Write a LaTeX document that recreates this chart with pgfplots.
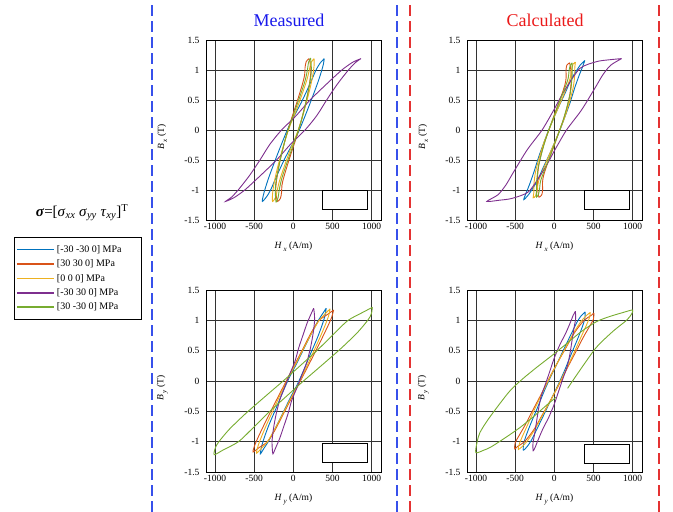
\documentclass[border=0pt]{standalone}
\usepackage{fontspec}
\setmainfont{Liberation Serif}
\usepackage{pgfplots}
\pgfplotsset{compat=1.18}

\definecolor{mblue}{RGB}{0,114,189}
\definecolor{morange}{RGB}{217,83,25}
\definecolor{myellow}{RGB}{237,177,32}
\definecolor{mpurple}{RGB}{126,47,142}
\definecolor{mgreen}{RGB}{119,172,48}
\definecolor{dashblue}{RGB}{55,80,235}
\definecolor{dashred}{RGB}{228,50,50}
\definecolor{titleblue}{RGB}{25,25,235}
\definecolor{titlered}{RGB}{235,25,25}

\newcommand{\legtext}[1]{\makebox[80pt][l]{\fontsize{10}{10.5}\selectfont #1}}

\pgfplotsset{
  hyst/.style={
    scale only axis, width=175pt, height=180pt,
    xmin=-1115, xmax=1120, ymin=-1.5, ymax=1.5,
    xtick={-1000,-500,0,500,1000},
    ytick={-1.5,-1,-0.5,0,0.5,1,1.5},
    grid=major,
    major grid style={draw=black!80, line width=0.6pt},
    axis line style={draw=black, line width=0.7pt},
    tick style={draw=none},
    tick label style={font=\fontsize{9.5}{11}\selectfont},
    /pgf/number format/assume math mode=true,
    /pgf/number format/1000 sep={},
    yticklabel style={xshift=-3pt},
    xlabel style={at={(axis description cs:0.5,-0.15)}, anchor=center, font=\fontsize{9.5}{11}\selectfont},
    ylabel style={at={(axis description cs:-0.25,0.46)}, anchor=center, font=\fontsize{9.5}{11}\selectfont},
    every axis plot/.append style={no marks, line width=0.9pt, smooth, tension=0.45},
  },
}

\begin{document}
\begin{tikzpicture}[x=1pt,y=1pt]
\path[use as bounding box] (0,0) rectangle (673,512);

% ---------- Measured, Bx ----------
\begin{axis}[hyst, at={(206pt,292pt)}, anchor=south west,
    xlabel={\textit{H}\,\raisebox{-3pt}{\scriptsize\textit{x}}\ (A/m)},
    ylabel={\textit{B}\,\raisebox{-3pt}{\scriptsize\textit{x}}\ (T)},
    legend style={at={(axis description cs:-1.097,-0.094)}, anchor=north west,
      draw=black, line width=0.6pt,
      inner xsep=2pt, inner ysep=6pt, row sep=2pt, cells={anchor=west}},
    legend image code/.code={\draw[#1, line width=1.6pt] (0pt,0pt) -- (37pt,0pt);},
  ]
\addplot[mblue] coordinates {
(395,1.19) (340,1.11) (290,1.0) (210,0.76) (110,0.48) (30,0.28) (-60,0.05) (-140,-0.2) (-230,-0.5) (-310,-0.78) (-360,-0.98) (-385,-1.1) (-395,-1.19)
(-340,-1.11) (-290,-1.0) (-210,-0.76) (-110,-0.48) (-30,-0.28) (60,-0.05) (140,0.2) (230,0.5) (310,0.78) (360,0.98) (385,1.1) (395,1.19)};
\addlegendentry{\legtext{[-30 -30 0] MPa}}
\addplot[morange] coordinates {
(200,1.19) (165,1.14) (150,1.04) (145,0.92) (120,0.78) (60,0.52) (0,0.28) (-45,0.1) (-90,-0.1) (-140,-0.35) (-185,-0.6) (-215,-0.85) (-225,-1.0) (-215,-1.12) (-200,-1.19)
(-165,-1.14) (-150,-1.04) (-145,-0.92) (-120,-0.78) (-60,-0.52) (0,-0.28) (45,-0.1) (90,0.1) (140,0.35) (185,0.6) (215,0.85) (225,1.0) (215,1.12) (200,1.19)};
\addlegendentry{\legtext{[30 30 0] MPa}}
\addplot[myellow] coordinates {
(265,1.19) (225,1.12) (205,1.0) (170,0.82) (100,0.55) (30,0.3) (-40,0.08) (-100,-0.15) (-160,-0.42) (-215,-0.7) (-250,-0.92) (-265,-1.07) (-265,-1.19)
(-225,-1.12) (-205,-1.0) (-170,-0.82) (-100,-0.55) (-30,-0.3) (40,-0.08) (100,0.15) (160,0.42) (215,0.7) (250,0.92) (265,1.07) (265,1.19)};
\addlegendentry{\legtext{[0 0 0] MPa}}
\addplot[mpurple] coordinates {
(865,1.19) (760,1.13) (620,1.0) (420,0.76) (214,0.5) (30,0.23) (-150,0) (-300,-0.24) (-426,-0.5) (-560,-0.76) (-704,-1.0) (-790,-1.12) (-865,-1.19)
(-760,-1.13) (-620,-1.0) (-420,-0.76) (-214,-0.5) (-30,-0.23) (150,0) (300,0.24) (426,0.5) (560,0.76) (704,1.0) (790,1.12) (865,1.19)};
\addlegendentry{\legtext{[-30 30 0] MPa}}
\addplot[mgreen] coordinates {
(220,1.2) (195,1.13) (180,1.0) (150,0.82) (90,0.58) (20,0.32) (-40,0.1) (-95,-0.12) (-150,-0.4) (-195,-0.68) (-225,-0.9) (-230,-1.05) (-220,-1.2)
(-195,-1.13) (-180,-1.0) (-150,-0.82) (-90,-0.58) (-20,-0.32) (40,-0.1) (95,0.12) (150,0.4) (195,0.68) (225,0.9) (230,1.05) (220,1.2)};
\addlegendentry{\legtext{[30 -30 0] MPa}}
\draw[black, line width=0.7pt, fill=white] (axis cs:367,-1.0) rectangle (axis cs:943,-1.32);
\end{axis}

% ---------- Calculated, Bx ----------
\begin{axis}[hyst, at={(467pt,292pt)}, anchor=south west,
    xlabel={\textit{H}\,\raisebox{-3pt}{\scriptsize\textit{x}}\ (A/m)},
    ylabel={\textit{B}\,\raisebox{-3pt}{\scriptsize\textit{x}}\ (T)},
  ]
\addplot[mblue] coordinates {
(390,1.16) (330,1.08) (250,0.92) (200,0.8) (140,0.62) (60,0.4) (0,0.22) (-60,0.04) (-130,-0.2) (-200,-0.45) (-260,-0.7) (-320,-0.92) (-360,-1.05) (-390,-1.16)
(-330,-1.08) (-250,-0.92) (-200,-0.8) (-140,-0.62) (-60,-0.4) (0,-0.22) (60,-0.04) (130,0.2) (200,0.45) (260,0.7) (320,0.92) (360,1.05) (390,1.16)};
\addplot[morange] coordinates {
(195,1.12) (160,1.08) (150,1.0) (150,0.86) (135,0.75) (90,0.57) (30,0.36) (-20,0.18) (-60,0.03) (-110,-0.15) (-160,-0.36) (-200,-0.6) (-215,-0.8) (-215,-0.95) (-205,-1.06) (-195,-1.12)
(-160,-1.08) (-150,-1.0) (-150,-0.86) (-135,-0.75) (-90,-0.57) (-30,-0.36) (20,-0.18) (60,-0.03) (110,0.15) (160,0.36) (200,0.6) (215,0.8) (215,0.95) (205,1.06) (195,1.12)};
\addplot[myellow] coordinates {
(270,1.13) (240,1.1) (220,1.0) (200,0.85) (140,0.65) (60,0.4) (0,0.22) (-60,0.03) (-130,-0.2) (-190,-0.45) (-240,-0.7) (-260,-0.9) (-262,-1.05) (-270,-1.13)
(-240,-1.1) (-220,-1.0) (-200,-0.85) (-140,-0.65) (-60,-0.4) (0,-0.22) (60,-0.03) (130,0.2) (190,0.45) (240,0.7) (260,0.9) (262,1.05) (270,1.13)};
\addplot[mpurple] coordinates {
(860,1.19) (700,1.17) (541,1.14) (330,1.03) (161,0.72) (70,0.52) (-8,0.33) (-156,0) (-346,-0.33) (-520,-0.7) (-620,-0.92) (-720,-1.08) (-860,-1.19)
(-700,-1.17) (-541,-1.14) (-330,-1.03) (-161,-0.72) (-70,-0.52) (8,-0.33) (156,0) (346,0.33) (520,0.7) (620,0.92) (720,1.08) (860,1.19)};
\addplot[mgreen] coordinates {
(228,1.12) (205,1.08) (190,1.0) (175,0.85) (120,0.65) (50,0.42) (0,0.24) (-50,0.07) (-110,-0.15) (-160,-0.38) (-205,-0.62) (-225,-0.85) (-228,-1.0) (-228,-1.12)
(-205,-1.08) (-190,-1.0) (-175,-0.85) (-120,-0.65) (-50,-0.42) (0,-0.24) (50,-0.07) (110,0.15) (160,0.38) (205,0.62) (225,0.85) (228,1.0) (228,1.12)};
\draw[black, line width=0.7pt, fill=white] (axis cs:385,-1.01) rectangle (axis cs:956,-1.32);
\end{axis}

% ---------- Measured, By ----------
\begin{axis}[hyst, height=182pt, at={(206pt,40pt)}, anchor=south west,
    xlabel={\textit{H}\,\raisebox{-3pt}{\scriptsize\textit{y}}\ (A/m)},
    ylabel={\textit{B}\,\raisebox{-3pt}{\scriptsize\textit{y}}\ (T)},
  ]
\addplot[mblue] coordinates {
(420,1.2) (370,1.1) (320,1.0) (230,0.78) (130,0.52) (40,0.28) (-50,0.06) (-130,-0.17) (-220,-0.45) (-310,-0.72) (-370,-0.93) (-405,-1.08) (-420,-1.2)
(-370,-1.1) (-320,-1.0) (-230,-0.78) (-130,-0.52) (-40,-0.28) (50,-0.06) (130,0.17) (220,0.45) (310,0.72) (370,0.93) (405,1.08) (420,1.2)};
\addplot[morange] coordinates {
(515,1.17) (440,1.1) (330,1.0) (230,0.8) (130,0.55) (30,0.3) (-70,0.05) (-170,-0.2) (-280,-0.48) (-380,-0.74) (-450,-0.93) (-490,-1.05) (-515,-1.17)
(-440,-1.1) (-330,-1.0) (-230,-0.8) (-130,-0.55) (-30,-0.3) (70,-0.05) (170,0.2) (280,0.48) (380,0.74) (450,0.93) (490,1.05) (515,1.17)};
\addplot[myellow] coordinates {
(470,1.19) (400,1.1) (330,1.0) (235,0.79) (130,0.53) (35,0.29) (-60,0.06) (-150,-0.18) (-250,-0.46) (-345,-0.73) (-410,-0.93) (-450,-1.07) (-470,-1.19)
(-400,-1.1) (-330,-1.0) (-235,-0.79) (-130,-0.53) (-35,-0.29) (60,-0.06) (150,0.18) (250,0.46) (345,0.73) (410,0.93) (450,1.07) (470,1.19)};
\addplot[mpurple] coordinates {
(260,1.2) (225,1.1) (175,0.95) (130,0.78) (70,0.55) (20,0.32) (-50,0.1) (-110,-0.1) (-170,-0.3) (-220,-0.55) (-255,-0.8) (-272,-1.0) (-268,-1.12) (-260,-1.2)
(-225,-1.1) (-175,-0.95) (-130,-0.78) (-70,-0.55) (-20,-0.32) (50,-0.1) (110,0.1) (170,0.3) (220,0.55) (255,0.8) (272,1.0) (268,1.12) (260,1.2)};
\addplot[mgreen] coordinates {
(1010,1.215) (900,1.14) (700,1.0) (520,0.78) (300,0.5) (0,0.15) (-130,0) (-400,-0.3) (-620,-0.55) (-820,-0.8) (-950,-1.0) (-995,-1.1) (-1010,-1.215)
(-900,-1.14) (-700,-1.0) (-520,-0.78) (-300,-0.5) (0,-0.15) (130,0) (400,0.3) (620,0.55) (820,0.8) (950,1.0) (995,1.1) (1010,1.215)};
\draw[black, line width=0.7pt, fill=white] (axis cs:365,-1.03) rectangle (axis cs:943,-1.34);
\end{axis}

% ---------- Calculated, By ----------
\begin{axis}[hyst, height=182pt, at={(467pt,40pt)}, anchor=south west,
    xlabel={\textit{H}\,\raisebox{-3pt}{\scriptsize\textit{y}}\ (A/m)},
    ylabel={\textit{B}\,\raisebox{-3pt}{\scriptsize\textit{y}}\ (T)},
  ]
\addplot[mblue] coordinates {
(395,1.14) (340,1.07) (290,0.97) (210,0.76) (120,0.52) (40,0.3) (-50,0.06) (-130,-0.17) (-215,-0.44) (-300,-0.7) (-360,-0.9) (-390,-1.03) (-395,-1.14)
(-340,-1.07) (-290,-0.97) (-210,-0.76) (-120,-0.52) (-40,-0.3) (50,-0.06) (130,0.17) (215,0.44) (300,0.7) (360,0.9) (390,1.03) (395,1.14)};
\addplot[morange] coordinates {
(505,1.12) (470,1.08) (380,1.0) (260,0.8) (150,0.55) (40,0.3) (-60,0.06) (-160,-0.2) (-270,-0.47) (-370,-0.72) (-450,-0.9) (-500,-1.02) (-505,-1.12)
(-470,-1.08) (-380,-1.0) (-260,-0.8) (-150,-0.55) (-40,-0.3) (60,-0.06) (160,0.2) (270,0.47) (370,0.72) (450,0.9) (500,1.02) (505,1.12)};
\addplot[myellow] coordinates {
(460,1.13) (410,1.08) (340,0.98) (240,0.78) (140,0.54) (40,0.3) (-55,0.06) (-150,-0.19) (-250,-0.46) (-340,-0.72) (-410,-0.92) (-450,-1.05) (-460,-1.13)
(-410,-1.08) (-340,-0.98) (-240,-0.78) (-140,-0.54) (-40,-0.3) (55,-0.06) (150,0.19) (250,0.46) (340,0.72) (410,0.92) (450,1.05) (460,1.13)};
\addplot[mpurple] coordinates {
(270,1.15) (240,1.08) (216,1.0) (150,0.8) (68,0.59) (0,0.38) (-60,0.15) (-110,-0.04) (-165,-0.24) (-200,-0.45) (-228,-0.68) (-255,-0.9) (-272,-1.02) (-270,-1.15)
(-240,-1.08) (-216,-1.0) (-150,-0.8) (-68,-0.59) (0,-0.38) (60,-0.15) (110,0.04) (165,0.24) (200,0.45) (228,0.68) (255,0.9) (272,1.02) (270,1.15)};
\addplot[mgreen] coordinates {
(170,-0.12) (350,0.22) (541,0.56) (750,0.82) (922,1.0) (985,1.1) (1000,1.17)
(880,1.13) (700,1.06) (541,0.98) (350,0.82) (161,0.62) (-30,0.42) (-220,0.23) (-400,0.04) (-558,-0.15) (-700,-0.38) (-854,-0.65) (-950,-0.85) (-985,-1.0) (-1002,-1.18)
(-900,-1.14) (-812,-1.09) (-620,-0.93) (-431,-0.76) (-250,-0.57) (-100,-0.4) (20,-0.27)};
\draw[black, line width=0.7pt, fill=white] (axis cs:381,-1.04) rectangle (axis cs:956,-1.35);
\end{axis}

% ---------- decorations ----------
\draw[dashblue, line width=1.6pt, dash pattern=on 11pt off 5pt] (152,0) -- (152,512);
\draw[dashblue, line width=1.6pt, dash pattern=on 11pt off 5pt] (397,0) -- (397,512);
\draw[dashred, line width=1.6pt, dash pattern=on 11pt off 5pt] (410,0) -- (410,512);
\draw[dashred, line width=1.6pt, dash pattern=on 11pt off 5pt] (659,0) -- (659,512);
\node[text=titleblue, font=\fontsize{18}{20}\selectfont] at (289,492) {Measured};
\node[text=titlered, font=\fontsize{18}{20}\selectfont] at (545,492) {Calculated};
\node[font=\fontsize{15}{17}\selectfont] at (82,299)
  {\textbf{\textit{σ}}=[\textit{σ}\textsubscript{\textit{xx}} \textit{σ}\textsubscript{\textit{yy}} \textit{τ}\textsubscript{\textit{xy}}]\textsuperscript{T}};
\end{tikzpicture}
\end{document}
